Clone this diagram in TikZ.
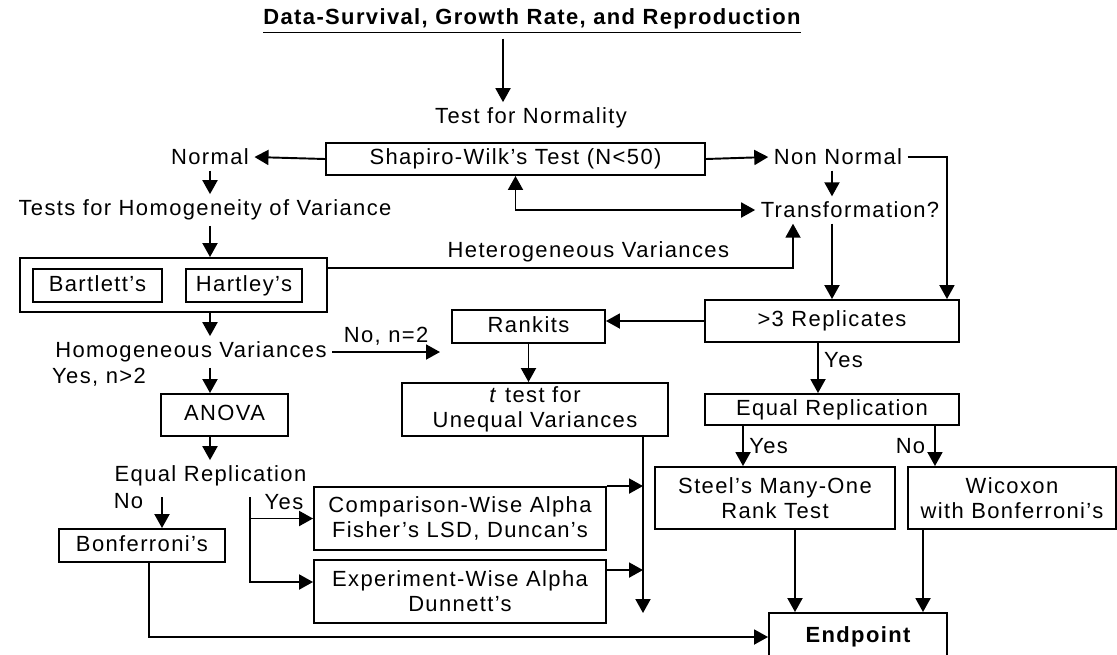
\documentclass[tikz,border=0pt]{standalone}
\usepackage{fontspec}
\setmainfont[LetterSpace=6.3]{Liberation Sans}
\usepackage{tikz}
\usetikzlibrary{arrows.meta, positioning, calc}

\begin{document}
\begin{tikzpicture}[
    x=0.02cm, y=-0.02cm,
    every node/.style={font=\fontsize{12.5}{14.2}\selectfont},
    box/.style={rectangle, draw, line width=1.1pt, inner sep=2pt, align=center},
    oneline/.style={text height=1.65ex, text depth=0.45ex},
    lbl/.style={inner sep=3pt, align=center},
    arrow/.style={-{Triangle[length=0.28cm, width=0.3cm]}, line width=1.1pt},
    biarrow/.style={{Triangle[length=0.28cm, width=0.3cm]}-{Triangle[length=0.28cm, width=0.3cm]}, line width=1.1pt}
]
\useasboundingbox (0,0) rectangle (1117,654);

\node[lbl, font=\fontsize{12.5}{14.2}\selectfont\bfseries] (title) at (532,21) {\underline{Data-Survival, Growth Rate, and Reproduction}};
\node[lbl] (testnorm) at (531,118) {Test for Normality};
\node[box, oneline, minimum width=7.58cm, minimum height=0.64cm] (sw) at (515.5,159) {Shapiro-Wilk's Test (N<50)};
\node[lbl] (normal) at (210,157) {Normal};
\node[lbl] (nonnormal) at (838,157) {Non Normal};
\node[lbl] (trans) at (850,210) {Transformation?};
\node[lbl] (homtest) at (205,210) {Tests for Homogeneity of Variance};
\node[box, minimum width=6.14cm, minimum height=1.08cm] (homog) at (173.5,285) {};
\node[box, oneline, minimum width=2.58cm, minimum height=0.66cm] (bart) at (97.5,285.5) {Bartlett's};
\node[box, oneline, minimum width=2.32cm, minimum height=0.66cm] (hart) at (244,285.5) {Hartley's};
\node[lbl] (homvar) at (191,352) {Homogeneous Variances};
\node[lbl] (yesgt) at (99,377) {Yes, n>2};
\node[box, oneline, minimum width=2.54cm, minimum height=0.84cm] (anova) at (224.5,415) {ANOVA};
\node[lbl] (eqrepa) at (210.5,476) {Equal Replication};
\node[lbl] (noa) at (128.5,501) {No};
\node[lbl] (yesa) at (284,502) {Yes};
\node[box, oneline, minimum width=3.32cm, minimum height=0.66cm] (bonf) at (142,545.5) {Bonferroni's};
\node[box, minimum width=5.84cm, minimum height=1.26cm] (comp) at (460,518.5) {Comparison-Wise Alpha\\Fisher's LSD, Duncan's};
\node[box, minimum width=5.84cm, minimum height=1.26cm] (exp) at (460,591.5) {Experiment-Wise Alpha\\Dunnett's};
\node[box, oneline, minimum width=3.06cm, minimum height=0.66cm] (rankits) at (528.5,326.5) {Rankits};
\node[box, minimum width=5.32cm, minimum height=1.06cm] (ttest) at (535,409.5) {\textit{t} test for\\Unequal Variances};
\node[box, oneline, minimum width=5.08cm, minimum height=0.84cm] (rep) at (832,321) {>3 Replicates};
\node[box, oneline, minimum width=5.08cm, minimum height=0.62cm] (eqrepb) at (832,409.5) {Equal Replication};
\node[box, minimum width=4.8cm, minimum height=1.24cm] (steel) at (775,498) {Steel's Many-One\\Rank Test};
\node[box, minimum width=4.16cm, minimum height=1.24cm] (wic) at (1012,498) {Wicoxon\\with Bonferroni's};
\node[box, oneline, minimum width=3.56cm, minimum height=0.96cm, font=\fontsize{12.5}{14.2}\selectfont\bfseries] (endpoint) at (858,637) {Endpoint};

\coordinate (noend) at (440,352);
\coordinate (nofork) at (162,497);
\coordinate (yesfork) at (250,497);
\coordinate (tend) at (643,613);

\draw[arrow] ([xshift=-0.58cm]title.south) -- ([xshift=-0.56cm]testnorm.north);
\draw[arrow] (sw.west) -- (normal.east);
\draw[arrow] (sw.east) -- (nonnormal.west);
\draw[biarrow] (sw.south) |- (trans.west);
\draw[arrow] ([xshift=-0.12cm]nonnormal.south) -- ([xshift=-0.12cm]nonnormal.south |- trans.north);
\draw[arrow] (nonnormal.east) -| ([xshift=2.3cm]rep.north);
\draw[arrow] (rep.north |- trans.south) -- (rep.north);
\draw[arrow] ([yshift=0.34cm]homog.east) -| ([xshift=-1.14cm]trans.south)
    node[pos=0.28, above, lbl] {Heterogeneous Variances};

\draw[arrow] (normal.south) -- (normal.south |- homtest.north);
\draw[arrow] (homtest.south -| normal.south) -- (homog.north -| normal.south);
\draw[arrow] (homog.south -| normal.south) -- (homvar.north -| normal.south);
\draw[arrow] (homvar.south -| normal.south) -- (anova.north -| normal.south);
\draw[arrow] (anova.south -| normal.south) -- (eqrepa.north -| normal.south);
\draw[arrow] (homvar.east) -- (noend) node[midway, above, lbl] {No, n=2};

\draw[arrow] (nofork) -- (nofork |- bonf.north);
\draw[arrow] ([xshift=0.14cm]bonf.south) |- (endpoint.west);
\draw[arrow] (yesfork) |- (comp.west);
\draw[arrow] (yesfork) |- ([yshift=0.19cm]exp.west);

\draw[arrow] (rep.west) -- (rep.west -| rankits.east);
\draw[arrow] (rankits.south) -- (rankits.south |- ttest.north);
\draw[arrow] (ttest.south -| tend) -- (tend);
\draw[arrow] (comp.north east) -- (comp.north east -| tend);
\draw[arrow] ([yshift=-0.22cm]exp.north east) -- ([yshift=-0.22cm]exp.north east -| tend);

\draw[arrow] ([xshift=-0.28cm]rep.south) -- ([xshift=-0.28cm]eqrepb.north) node[pos=0.35, right, lbl] {Yes};
\draw[arrow] ([xshift=-1.78cm]eqrepb.south) -- ([xshift=-1.78cm]eqrepb.south |- steel.north) node[midway, right, lbl] {Yes};
\draw[arrow] ([xshift=2.06cm]eqrepb.south) -- ([xshift=2.06cm]eqrepb.south |- wic.north) node[midway, left, lbl, inner sep=5pt] {No};
\draw[arrow] ([xshift=0.4cm]steel.south) -- ([xshift=0.4cm]steel.south |- endpoint.north);
\draw[arrow] ([xshift=-1.78cm]wic.south) -- ([xshift=-1.78cm]wic.south |- endpoint.north);
\end{tikzpicture}
\end{document}
